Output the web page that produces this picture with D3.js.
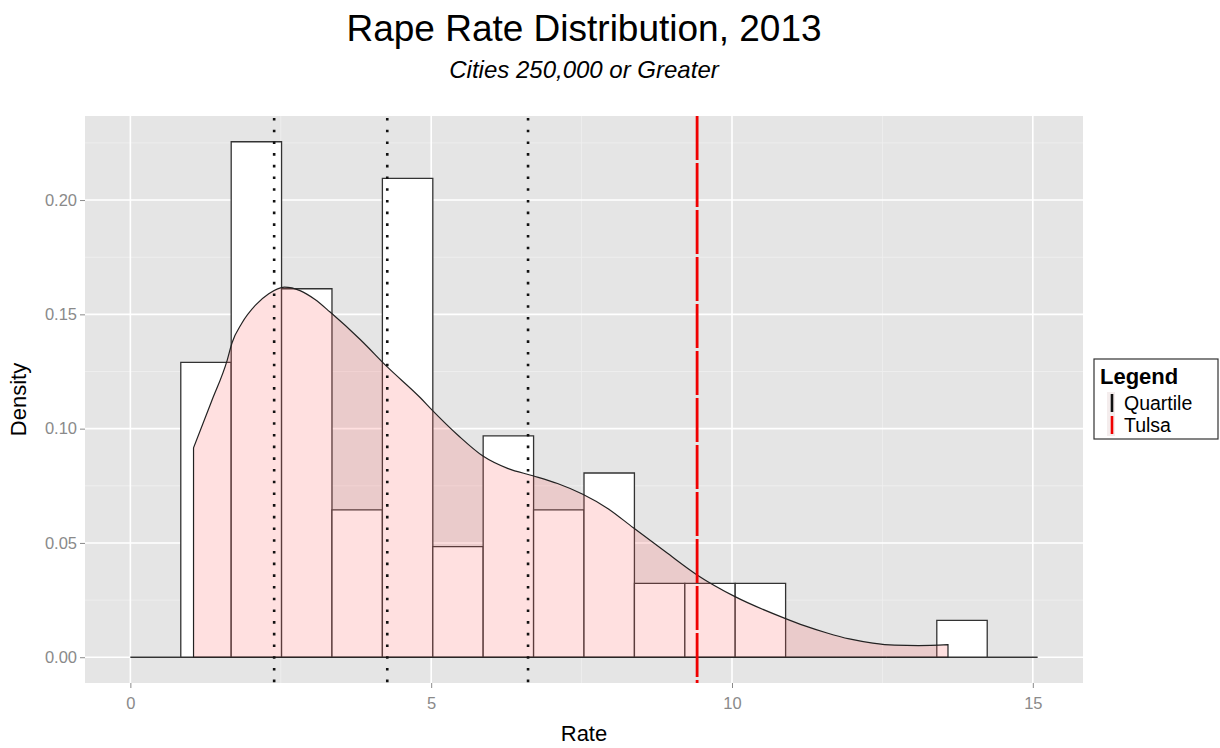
<!DOCTYPE html>
<html>
<head>
<meta charset="utf-8">
<script src="https://cdn.jsdelivr.net/npm/d3@7"></script>
<style>
  body { margin: 0; background: #fff; }
  text { font-family: "Liberation Sans", Arial, Helvetica, sans-serif; }
</style>
</head>
<body>
<svg id="chart" width="1220" height="748"></svg>
<script>
// Histogram bins (rate per 1,000) and their densities
const binBreaks = [0, 0.838, 1.676, 2.513, 3.351, 4.189, 5.027, 5.864, 6.702, 7.540,
                   8.378, 9.216, 10.053, 10.891, 11.729, 12.567, 13.404, 14.242, 15.080];
const binDensity = [0, 0.129, 0.2255, 0.1612, 0.0645, 0.2095, 0.0484, 0.0968, 0.0645,
                    0.0806, 0.0323, 0.0323, 0.0323, 0, 0, 0, 0.0161, 0];

// Kernel density estimate, sampled along the rate axis
const kdeRate = [1.05, 1.35, 1.61, 1.69, 1.85, 2.08, 2.30, 2.56, 2.82, 3.07, 3.32, 3.82,
                 4.27, 4.82, 5.02, 5.45, 5.86, 6.28, 6.69, 7.10, 7.52, 7.94, 8.36, 8.90,
                 9.42, 10.05, 10.88, 11.20, 11.58, 11.95, 12.34, 12.70, 13.10, 13.59];
const kdeDensity = [0.0916, 0.112, 0.130, 0.1376, 0.146, 0.154, 0.159, 0.1619, 0.1604, 0.1565,
                    0.151, 0.139, 0.127, 0.1135, 0.108, 0.097, 0.088, 0.0825, 0.0794, 0.0760,
                    0.0713, 0.0650, 0.0566, 0.0460, 0.036, 0.0265, 0.017, 0.0138, 0.0106,
                    0.0080, 0.0062, 0.0053, 0.0051, 0.0055];

// Reference lines
const quartiles = [2.39, 4.27, 6.61];
const tulsaRate = 9.42;

const xTicks = [0, 5, 10, 15];
const xMinor = [2.5, 7.5, 12.5];
const yTicks = [0, 0.05, 0.10, 0.15, 0.20];
const yMinor = [0.025, 0.075, 0.125, 0.175, 0.225];

const svg = d3.select("#chart");
const panel = { left: 85, right: 1083, top: 116, bottom: 683 };

const xMax = binBreaks[binBreaks.length - 1];
const xPad = xMax * 0.05;
const x = d3.scaleLinear().domain([-xPad, xMax + xPad]).range([panel.left, panel.right]);
const yTop = d3.max(binDensity);
const yPad = yTop * 0.05;
const y = d3.scaleLinear().domain([-yPad, yTop + yPad]).range([panel.bottom, panel.top]);

// Panel background
svg.append("rect")
  .attr("x", panel.left).attr("y", panel.top)
  .attr("width", panel.right - panel.left).attr("height", panel.bottom - panel.top)
  .attr("fill", "#E5E5E5");

// Minor and major gridlines
const grid = svg.append("g");
grid.selectAll("line.xminor").data(xMinor).join("line")
  .attr("x1", d => x(d)).attr("x2", d => x(d))
  .attr("y1", panel.top).attr("y2", panel.bottom)
  .attr("stroke", "#F0F0F0").attr("stroke-width", 0.8);
grid.selectAll("line.yminor").data(yMinor).join("line")
  .attr("y1", d => y(d)).attr("y2", d => y(d))
  .attr("x1", panel.left).attr("x2", panel.right)
  .attr("stroke", "#F0F0F0").attr("stroke-width", 0.8);
grid.selectAll("line.xmajor").data(xTicks).join("line")
  .attr("x1", d => x(d)).attr("x2", d => x(d))
  .attr("y1", panel.top).attr("y2", panel.bottom)
  .attr("stroke", "#FFFFFF").attr("stroke-width", 1.6);
grid.selectAll("line.ymajor").data(yTicks).join("line")
  .attr("y1", d => y(d)).attr("y2", d => y(d))
  .attr("x1", panel.left).attr("x2", panel.right)
  .attr("stroke", "#FFFFFF").attr("stroke-width", 1.6);

// Histogram bars (paths so that empty bins still draw as a flat outline)
const bars = binDensity.map((d, i) => ({ x0: binBreaks[i], x1: binBreaks[i + 1], d }));
svg.append("g").selectAll("path").data(bars).join("path")
  .attr("d", b => `M${x(b.x0)},${y(0)}V${y(b.d)}H${x(b.x1)}V${y(0)}Z`)
  .attr("fill", "#FFFFFF")
  .attr("stroke", "#333333")
  .attr("stroke-width", 1.3);

// Density area
const kde = kdeRate.map((r, i) => [r, kdeDensity[i]]);
const curve = d3.line().x(d => x(d[0])).y(d => y(d[1])).curve(d3.curveMonotoneX);
const first = kde[0], last = kde[kde.length - 1];
const areaPath = `M${x(first[0])},${y(0)}L` + curve(kde).slice(1) + `L${x(last[0])},${y(0)}Z`;
svg.append("path")
  .attr("d", areaPath)
  .attr("fill", "#FF6666").attr("fill-opacity", 0.2)
  .attr("stroke", "#222222").attr("stroke-width", 1.2);

// Quartile lines
svg.append("g").selectAll("line").data(quartiles).join("line")
  .attr("x1", d => x(d)).attr("x2", d => x(d))
  .attr("y1", panel.top + 2).attr("y2", panel.bottom)
  .attr("stroke", "#111111").attr("stroke-width", 2.6)
  .attr("stroke-dasharray", "2.6,9.1");

// Tulsa line
svg.append("line")
  .attr("x1", x(tulsaRate)).attr("x2", x(tulsaRate))
  .attr("y1", panel.top).attr("y2", panel.bottom)
  .attr("stroke", "#F00000").attr("stroke-width", 2.8)
  .attr("stroke-dasharray", "44,3");

// Axes
const xAxis = svg.append("g").attr("transform", `translate(0,${panel.bottom})`)
  .call(d3.axisBottom(x).tickValues(xTicks).tickFormat(d3.format("d")).tickSize(5).tickPadding(9));
const yAxis = svg.append("g").attr("transform", `translate(${panel.left},0)`)
  .call(d3.axisLeft(y).tickValues(yTicks).tickFormat(d3.format(".2f")).tickSize(5).tickPadding(3));
[xAxis, yAxis].forEach(a => {
  a.select(".domain").remove();
  a.selectAll(".tick line").attr("stroke", "#8A8A8A");
  a.selectAll(".tick text").attr("fill", "#8A8A8A").style("font-size", "16.5px")
    .style("font-family", "'Liberation Sans', Arial, sans-serif");
});

// Axis titles
svg.append("text").attr("x", (panel.left + panel.right) / 2).attr("y", 741)
  .attr("text-anchor", "middle").style("font-size", "22px").attr("fill", "#000").text("Rate");
svg.append("text").attr("transform", `translate(26,${(panel.top + panel.bottom) / 2}) rotate(-90)`)
  .attr("text-anchor", "middle").style("font-size", "22px").attr("fill", "#000").text("Density");

// Titles
svg.append("text").attr("x", (panel.left + panel.right) / 2).attr("y", 41)
  .attr("text-anchor", "middle").style("font-size", "37px").attr("fill", "#000")
  .text("Rape Rate Distribution, 2013");
svg.append("text").attr("x", (panel.left + panel.right) / 2).attr("y", 78)
  .attr("text-anchor", "middle").style("font-size", "24px").style("font-style", "italic")
  .attr("fill", "#000").text("Cities 250,000 or Greater");

// Legend
const legendItems = [
  { label: "Quartile", color: "#111111" },
  { label: "Tulsa", color: "#F00000" }
];
const lg = svg.append("g").attr("transform", "translate(1094,359)");
lg.append("rect").attr("x", 0).attr("y", 0).attr("width", 124).attr("height", 80)
  .attr("fill", "#FFFFFF").attr("stroke", "#333333").attr("stroke-width", 1.2);
lg.append("text").attr("x", 6).attr("y", 25).style("font-size", "22px")
  .style("font-weight", "bold").attr("fill", "#000").text("Legend");
const items = lg.selectAll("g.item").data(legendItems).join("g")
  .attr("transform", (d, i) => `translate(0,${33 + i * 22})`);
items.append("rect").attr("x", 13).attr("y", 0).attr("width", 8).attr("height", 22)
  .attr("fill", "#F4EDED");
items.append("line").attr("x1", 18).attr("x2", 18).attr("y1", 2).attr("y2", 20)
  .attr("stroke", d => d.color).attr("stroke-width", 2.6);
items.append("text").attr("x", 30).attr("y", 18).style("font-size", "19.5px")
  .attr("fill", "#000").text(d => d.label);
</script>
</body>
</html>
